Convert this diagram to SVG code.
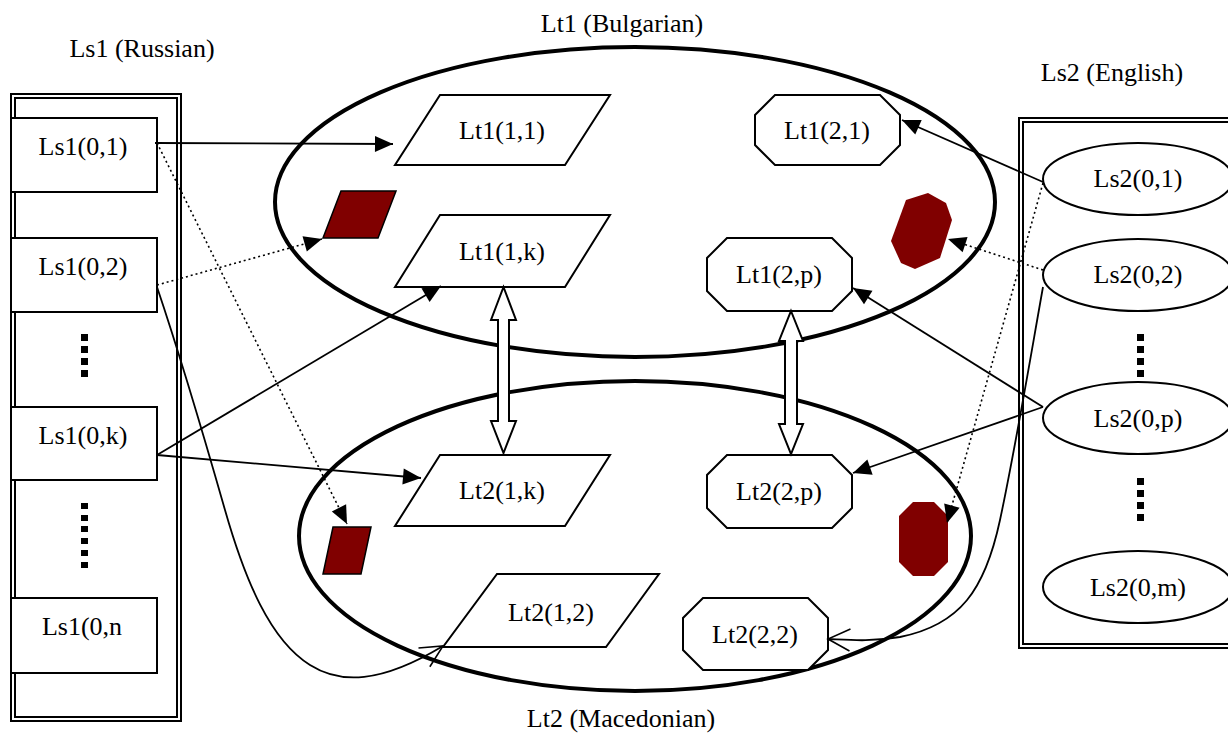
<svg xmlns="http://www.w3.org/2000/svg" width="1228" height="733" viewBox="0 0 1228 733">
<style>
text{font-family:"Liberation Serif","Times New Roman",serif;font-size:26px;fill:#000;text-anchor:middle}
.node{fill:#fff;stroke:#000;stroke-width:2}
.big{fill:none;stroke:#000;stroke-width:4}
.dark{fill:#800000;stroke:#000;stroke-width:1.5}
.darkn{fill:#800000;stroke:none}
.panel{fill:none;stroke:#000;stroke-width:2}
.dot{fill:#000}
.c{fill:none;stroke:#000;stroke-width:1.8}
.d{fill:none;stroke:#000;stroke-width:1.6;stroke-dasharray:2,3}
.dbl{fill:#fff;stroke:#000;stroke-width:2}
</style>
<defs>
<marker id="fa" markerUnits="userSpaceOnUse" markerWidth="20" markerHeight="18" refX="18" refY="8" orient="auto" overflow="visible">
<path d="M0,0 L18,8 L0,16 z" fill="#000"/>
</marker>
<marker id="oa" markerUnits="userSpaceOnUse" markerWidth="24" markerHeight="24" refX="22" refY="12" orient="auto" overflow="visible">
<path d="M0,1 L22,12 L0,23" fill="none" stroke="#000" stroke-width="1.6"/>
</marker>
</defs>
<rect width="1228" height="733" fill="#fff"/>

<g id="titles">
<text x="142" y="57">Ls1 (Russian)</text>
<text x="622" y="32">Lt1 (Bulgarian)</text>
<text x="1112" y="81">Ls2 (English)</text>
<text x="621" y="727">Lt2 (Macedonian)</text>
</g>

<g id="panel-ls1">
<rect class="panel" x="11" y="94" width="170" height="627"/>
<rect class="panel" x="15" y="98" width="162" height="619"/>
</g>
<g id="panel-ls2">
<rect class="panel" x="1019" y="118" width="230" height="530"/>
<rect class="panel" x="1023" y="122" width="222" height="522"/>
</g>

<g id="ellipse-lt1"><ellipse class="big" cx="635" cy="202" rx="360" ry="155"/></g>
<g id="ellipse-lt2"><ellipse class="big" cx="635" cy="536" rx="336" ry="155"/></g>

<g id="ls1-01"><rect class="node" x="11" y="118" width="146" height="74"/><text x="83" y="155">Ls1(0,1)</text></g>
<g id="ls1-02"><rect class="node" x="11" y="238" width="146" height="74"/><text x="83" y="275">Ls1(0,2)</text></g>
<g id="ls1-0k"><rect class="node" x="11" y="407" width="146" height="73"/><text x="83" y="444">Ls1(0,k)</text></g>
<g id="ls1-0n"><rect class="node" x="11" y="598" width="146" height="75"/><text x="82" y="635">Ls1(0,n</text></g>
<g id="ls1-dots">
<rect class="dot" x="81" y="334" width="7" height="7"/>
<rect class="dot" x="81" y="346" width="7" height="7"/>
<rect class="dot" x="81" y="358" width="7" height="7"/>
<rect class="dot" x="81" y="370" width="7" height="7"/>
<rect class="dot" x="81" y="503" width="7" height="6"/>
<rect class="dot" x="81" y="515" width="7" height="6"/>
<rect class="dot" x="81" y="526" width="7" height="6"/>
<rect class="dot" x="81" y="538" width="7" height="6"/>
<rect class="dot" x="81" y="550" width="7" height="6"/>
<rect class="dot" x="81" y="562" width="7" height="6"/>
</g>

<g id="ls2-01"><ellipse class="node" cx="1138" cy="179" rx="95" ry="36"/><text x="1138" y="187">Ls2(0,1)</text></g>
<g id="ls2-02"><ellipse class="node" cx="1138" cy="275" rx="95" ry="36"/><text x="1138" y="283">Ls2(0,2)</text></g>
<g id="ls2-0p"><ellipse class="node" cx="1138" cy="418" rx="95" ry="36"/><text x="1138" y="427">Ls2(0,p)</text></g>
<g id="ls2-0m"><ellipse class="node" cx="1138" cy="587" rx="95" ry="36"/><text x="1138" y="596">Ls2(0,m)</text></g>
<g id="ls2-dots">
<rect class="dot" x="1137" y="334" width="7" height="7"/>
<rect class="dot" x="1137" y="346" width="7" height="7"/>
<rect class="dot" x="1137" y="358" width="7" height="7"/>
<rect class="dot" x="1137" y="370" width="7" height="7"/>
<rect class="dot" x="1137" y="478" width="7" height="7"/>
<rect class="dot" x="1137" y="490" width="7" height="7"/>
<rect class="dot" x="1137" y="502" width="7" height="7"/>
<rect class="dot" x="1137" y="514" width="7" height="7"/>
</g>

<g id="lt1-11"><polygon class="node" points="440,95 610,95 565,165 395,165"/><text x="502" y="139">Lt1(1,1)</text></g>
<g id="lt1-1k"><polygon class="node" points="440,215 610,215 565,287 395,287"/><text x="502" y="260">Lt1(1,k)</text></g>
<g id="lt2-1k"><polygon class="node" points="440,455 610,455 565,526 395,526"/><text x="502" y="499">Lt2(1,k)</text></g>
<g id="lt2-12"><polygon class="node" points="497,574 659,574 606,647 443,647"/><text x="551" y="621">Lt2(1,2)</text></g>

<g id="lt1-21"><polygon class="node" points="775,95 880,95 900,115 900,145 880,165 775,165 755,145 755,115"/><text x="827" y="139">Lt1(2,1)</text></g>
<g id="lt1-2p"><polygon class="node" points="727,238 832,238 852,258 852,291 832,311 727,311 707,291 707,258"/><text x="779" y="283">Lt1(2,p)</text></g>
<g id="lt2-2p"><polygon class="node" points="727,455 832,455 852,475 852,508 832,528 727,528 707,508 707,475"/><text x="779" y="500">Lt2(2,p)</text></g>
<g id="lt2-22"><polygon class="node" points="703,598 808,598 828,618 828,650 808,670 703,670 683,650 683,618"/><text x="755" y="643">Lt2(2,2)</text></g>

<g id="lt1-dark-para"><polygon class="dark" points="341,191 396,191 378,238 323,238"/></g>
<g id="lt2-dark-para"><polygon class="dark" points="333,527 371,527 361,574 323,574"/></g>
<g id="lt1-dark-oct"><polygon class="darkn" points="906,200 928,193 946,203 952,220 940,258 915,269 901,263 891,241"/></g>
<g id="lt2-dark-oct"><polygon class="darkn" points="913,502 934,502 948,516 948,562 934,576 913,576 899,562 899,516"/></g>

<g id="connectors">
<line class="c" x1="155" y1="143" x2="393" y2="144" marker-end="url(#fa)"/>
<line class="d" x1="157" y1="143" x2="347" y2="524" marker-end="url(#fa)"/>
<line class="d" x1="157" y1="285" x2="322" y2="239" marker-end="url(#fa)"/>
<path class="c" d="M157,287 C185,370 205,440 225,510 C245,580 270,640 310,665 C340,684 380,684 443,646" marker-end="url(#oa)"/>
<line class="c" x1="157" y1="455" x2="441" y2="286" marker-end="url(#fa)"/>
<line class="c" x1="157" y1="455" x2="421" y2="478" marker-end="url(#fa)"/>
<line class="c" x1="1043" y1="182" x2="902" y2="120" marker-end="url(#fa)"/>
<line class="d" x1="1043" y1="183" x2="947" y2="523" marker-end="url(#fa)"/>
<line class="d" x1="1043" y1="270" x2="948" y2="239" marker-end="url(#fa)"/>
<path class="c" d="M1043,287 C1030,360 1015,450 1000,520 C985,590 960,625 900,637 C870,642 850,640 828,639" marker-end="url(#oa)"/>
<line class="c" x1="1043" y1="407" x2="853" y2="288" marker-end="url(#fa)"/>
<line class="c" x1="1043" y1="407" x2="853" y2="473" marker-end="url(#fa)"/>
<polygon class="dbl" points="503.5,287 516,320 509,320 509,421 516,421 503.5,453 491,421 498,421 498,320 491,320"/>
<polygon class="dbl" points="791,311 803,341 797,341 797,424 803,424 791,454 779,424 785,424 785,341 779,341"/>
</g>
</svg>
